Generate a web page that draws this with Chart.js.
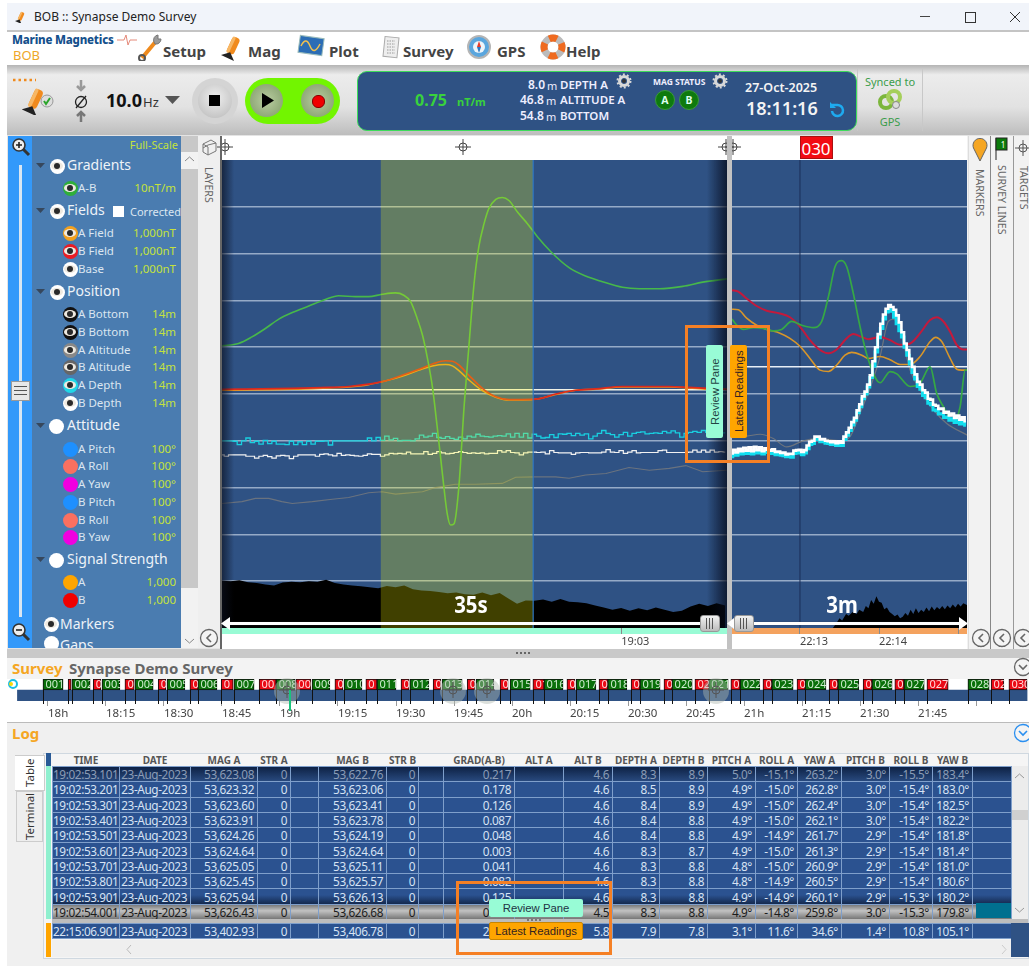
<!DOCTYPE html>
<html>
<head>
<meta charset="utf-8">
<title>BOB :: Synapse Demo Survey</title>
<script src="https://cdn.jsdelivr.net/npm/chart.js@4/dist/chart.umd.min.js"></script>
<style>
html,body{margin:0;padding:0;background:#fff;overflow:hidden;width:1029px;height:966px}
body{font-family:"Noto Sans","Open Sans",sans-serif;color:#333}
#app{position:absolute;left:0;top:0;width:1029px;height:966px;overflow:hidden}
#app div,#app canvas,#app svg,#app table{position:absolute}
.t{white-space:nowrap;line-height:1}
table{border-collapse:collapse;table-layout:fixed}
td{padding:0 3px 0 0;text-align:right;font-size:11.8px;letter-spacing:-.4px;line-height:14px;height:15.3px;box-sizing:border-box;color:#d7e3f4;white-space:nowrap;overflow:hidden;border:1px solid #7f9fcb}
th{padding:0;font-size:10px;line-height:12px;font-weight:700;color:#555;height:12px;text-align:center;white-space:nowrap;overflow:hidden}
</style>
</head>
<body>
<div id="app"></div>
<script>
// ---- review pane (seconds from the left edge, 19:03 falls at 92). Values are percent of full-scale
const reviewBand = [36.6, 71.7];
const reviewTickSeconds = [92];
const reviewTickLabels = ['19:03'];
const reviewGradTimes = [0,3.8,6.9,10,13.1,16.2,20,23.8,26.9,30.8,33.8,36.9,40,41.9,43.5,45,46.2,47.3,48.5,49.6,50.8,51.9,52.7,53.5,54.6,55.8,56.9,58.1,59.2,60.4,61.5,63.1,64.6,66.2,68.1,70.4,72.7,75.8,80,83.8,87.7,92.3,96.2,100.8,106.2,110.8,116.5];
const reviewGradValues = [60.3,60.8,62.2,64,66,67.4,68.8,70.2,71,70.8,70.8,71.3,71.6,71.1,69.7,66.1,62.6,57.9,51.5,43,33,24.5,22,22.3,30.2,47.3,60.1,73.6,81.5,86.4,89.6,91.6,92,91.3,88.9,86.4,83.6,80.4,77,75.2,74,72.8,72.5,72.5,73,73.9,74.6];
const reviewFieldTimes = [0,16.2,24.6,29.2,33.8,37.7,41.5,45.4,48.5,51.5,53.1,54.6,56.9,60,63.1,66.2,69.2,73.1,76.9,81.5,86.2,92.3,103.1,107.7,111.9,116.5];
const reviewFieldB = [51,51.2,51.4,51.6,52.1,52.8,54,55.3,56.4,57.1,57,56.2,54,51.2,49.4,48.8,48.8,49,50,50.8,51.1,51.6,51.6,51.4,51.2,51];
const reviewFieldA = [50.8,51,51.3,51.5,52,52.8,53.8,55.1,56,56.3,56,55,53,50.7,49.3,48.7,48.7,49,49.9,50.8,51,51.5,51.5,51.3,51,51];
const reviewBaseTimes = [0,116.5];
const reviewBaseValues = [50.9,50.9];
const reviewAltTimes = [0,4.6,7.7,10.8,13.8,16.2,20.8,25.4,29.2,33.8,36.9,40,46.2,49.2,53.8,58.5,64.6,67.7,72.3,76.9,80,83.8,88.5,93.8,98.5,103.1,106.9,110.8,116.5];
const reviewAltValues = [26.6,27,27.7,27.7,27,26.6,27,27.5,27.9,28.9,29.1,28.6,29.1,30,30.7,30.7,30.9,32.2,32.3,32.3,32,32.7,33,34.3,33.7,34.1,34.7,33.4,33.7];
const reviewDepthTimes = [
  0,1,2,3,4,5,6,7,8,9,10,11,12,13,14,15,16,17,18,19,
  20,21,22,23,24,25,26,27,28,29,30,31,32,33,34,35,36,37,38,39,
  40,41,42,43,44,45,46,47,48,49,50,51,52,53,54,55,56,57,58,59,
  60,61,62,63,64,65,66,67,68,69,70,71,72,73,74,75,76,77,78,79,
  80,81,82,83,84,85,86,87,88,89,90,91,92,93,94,95,96,97,98,99,
  100,101,102,103,104,105,106,107,108,109,110,111,112,113,114,115,116];
const reviewDepthA = [
  40,40,40,39.9,39.2,40,40.6,39.6,39.9,39.3,40.1,39.4,39.9,39.3,39.3,39.2,39.9,39.2,39.8,39.2,
  39.9,39.3,39.9,39.9,40,39.1,40,40,40,40,40,40,40,40,40.6,40,40.7,40.1,41,40.2,
  40.5,40,40.1,40.1,40,40.4,41.2,40.8,41,41.6,40.7,40.5,40.9,40.5,40.3,40.8,40.4,41,40.8,41.4,
  41,40.9,40.8,41,41.1,41,41.5,40.8,41.6,40.8,41.6,40.6,41.4,41,40.6,40.7,41.3,40.7,41.5,41.4,
  41.6,41.1,41.6,41.2,41.5,40.4,41,41.6,42.2,41.6,41.3,40.8,41.3,41.8,41,41.6,41.8,41.9,41.5,41.6,
  41.7,41.6,42,41.7,42.1,41.7,40.8,41.6,41.8,42,41.8,42.2,41.8,41.6,41.7,41.7,41.7];
const reviewDepthB = [
  37,36.7,37,37,37,37,36.7,36.7,36.3,36.7,36.9,36.6,36.3,36.8,36.9,36.8,36.2,36.7,37,37,
  37,37,36.7,37.1,37.2,37,36.8,37.3,36.9,37,36.9,36.8,36.7,36.9,37.2,37.1,37.1,36.7,37,37.3,
  37.2,37.3,37.2,37.6,37.2,37.2,37.2,37.7,37.1,37.3,37.7,37.4,37.2,37.3,37.5,37.7,37.5,37.3,37.4,37.3,
  37.4,37.2,37.3,37.3,37.9,37.6,37.9,37.5,37.4,37,37.4,37.6,37.6,37.5,37.6,37.2,37.9,37.5,37.4,37.4,
  37.4,37.1,37.4,37.5,37.5,37.4,37.4,37.4,37.6,38.1,37.6,37.5,37.9,37.3,37.6,37.9,37.4,37.5,37.5,37.5,
  37.5,37.9,38,37.5,37.5,37.5,37.5,37.5,37.6,38,37.6,38,37.6,38,37.6,37.7,37.6];
const reviewSignalTimes = [0,2,4,6,8,10,12,14,16,18,20,22,24,26,28,30,32,34,36,38,40,42,44,46,48,50,52,54,56,58,60,62,64,66,68,70,72,74,76,78,80,82,84,86,88,90,92,94,96,98,100,102,104,106,108,110,112,114,116];
const reviewSignalValues = [10.1,10,10.2,9.8,9.6,9.3,9.1,9.7,9.9,9.8,10,9.9,10.3,9.6,9.3,9.1,8.9,8.7,8.5,9,8.7,9.1,8.3,8,7.9,7.7,7.4,7.6,7.2,7.1,7.6,7,7.5,6.3,5.2,5.9,5.8,6.1,5.6,6.2,5.6,5.5,5.3,4.8,4.4,3.9,4.3,3.7,4.2,3.8,4.4,3.9,3.4,3.7,4.6,5.2,4.7,5.3,4.8];

// ---- latest readings pane (seconds after 22:12)
const latestMarkerSecond = 60;
const latestTickSeconds = [60,120,180];
const latestTickLabels = ['22:13','22:14',''];
const latestRedTimes = [8.4,13.2,19.5,27.1,34.7,44.8,52.4,60,67.6,75.2,81.6,87.9,95.5,100.5,106.9,111.9,120.8,128.4,136,143.6,151.2,158.8,163.8,168.9,174,179,184.1,187.1];
const latestFieldB = [72.2,71.9,70.4,68.8,67.8,67.2,66.4,64.4,61.5,59.4,58.7,59.5,61.9,62.8,62.2,61.7,62.2,61.5,60.5,60.8,63,65.8,66.4,65.5,63.3,60.5,59.5,59.5];
const latestOrangeTimes = [8.4,13.2,19.5,27.1,34.7,44.8,52.4,60,67.6,75.2,81.6,87.9,94.2,99.3,106.9,111.9,120.8,128.4,136,143.6,151.2,158.8,163,167.6,174,179,182.8,187.1];
const latestFieldA = [68.1,68,66.2,64.7,63.8,63,61.9,60.2,57.6,55.1,54.8,56.2,58.3,58.9,58.3,57.6,58,57.3,56.3,56.3,58,61.2,62.1,61.2,57.6,55.3,55.1,55.1];
const latestGradTimes = [8.4,12,17,24.6,32.2,39.8,46.1,53.7,61.3,70.2,76.5,81.6,86.6,91.7,95.5,100.5,105.6,111.9,120.8,128.4,133.5,143.6,151.2,158.8,163.8,168.9,176.5,181.6,185.4,187.1];
const latestGradValues = [66,64.7,63.8,64.2,64,63.5,63.8,65.5,64.7,64.2,65.5,70.8,77.2,78.5,77.2,71.5,64.4,57.3,52.4,54.8,54.3,51.6,52.3,55.8,50.1,47.3,44.1,47.3,55.1,55.1];
const latestBaseTimes = [8.4,187.1];
const latestBaseValues = [55.8,55.8];
const latestAltTimes = [8.4,19.5,29.7,39.8,49.9,62.6,75.2,90.4,98,105.6,114.5,120.8,127.1,130.9,136,143.6,151.2,161.3,171.4,187.1];
const latestAltValues = [40.9,41,41.4,40.5,38.7,40,40.5,40,40.9,45.9,52.3,58,65.5,66,63.7,55.1,50.8,46.6,43.7,41.2];
const latestDepthTimes = [
  8,10,12,14,16,18,20,22,24,26,
  28,30,32,34,36,38,40,42,44,46,
  48,50,52,54,56,58,60,62,64,66,
  68,70,72,74,76,78,80,82,84,86,
  88,90,92,94,96,98,100,102,104,106,
  108,110,112,114,116,118,120,122,124,126,
  128,130,132,134,136,138,140,142,144,146,
  148,150,152,154,156,158,160,162,164,166,
  168,170,172,174,176,178,180,182,184,186];
const latestDepthB = [
  37.3,38.1,37.5,38.3,37.8,38.5,37.9,38.6,37.8,38.7,
  38,38.6,37.8,38.4,38.1,37.9,38.2,37.6,37.7,37.4,
  37.5,37.1,37.2,37.2,37.9,38,38.1,37.6,38,39,
  39.8,40,40.9,40.9,40.3,40.4,40,39.9,39.7,39.9,
  39.5,39.9,39.6,40.9,41.8,42.8,44,44.9,46.5,47.8,
  49.5,50.5,52,54,57,60,62.8,65,67,68.2,
  69,68.6,68,66.8,65.3,63.2,60.8,59.4,57.5,55.8,
  54.2,52.6,52,50.8,50.3,49,48.8,47.7,47.5,46.8,
  46.9,46,46.2,45.4,45.8,44.9,45.4,44.5,45,44.2];
const latestDepthA = [
  36.6,37.3,36.9,37.5,37.2,37.7,37.3,37.9,37.2,38,
  37.4,37.9,37.2,37.8,37.5,37.3,37.6,37,37.1,36.9,
  36.8,36.6,36.6,36.5,37.3,37.4,37.5,37,37.4,38.3,
  39.2,39.4,40.3,40.4,39.8,39.8,39.5,39.4,39.2,39.4,
  39,39.4,39,40.3,41.2,42.2,43.4,44.4,46,47.3,
  49,50,51.5,53.5,56,59,62,64,66,67.5,
  68,67.7,66.4,65,63.5,62.2,60,58.3,56.4,54.6,
  53.2,51.6,51,49.7,49.2,48,47.7,46.6,46.4,45.7,
  45.8,45,45.1,44.4,44.7,43.9,44.3,43.6,43.9,43.3];
const latestSignalTimes = [8.4,85,88,90,92,95,97,100,103,105,108,110,112,114,116,118,120,122,124,126,128,130,132,134,136,138,140,142,144,146,148,150,152,154,156,158,160,162,164,166,168,170,172,174,176,178,180,182,184,187];
const latestSignalValues = [0,0,1.2,2.1,1.6,3,2.6,3.4,3,3.9,3.4,4.7,4.2,6,5.2,6.8,5.6,5.4,4,4.4,3.4,3,2.5,2.9,2.1,2.4,3.2,2.6,3.9,3,4.2,3.2,3.9,3.4,4.4,3.6,4.6,3.8,4.5,4,4.7,4,4.8,4.2,5,4.4,5.2,4.6,5.3,4.9];

// ---- survey timeline (minutes after 18:02:36)
const surveyTickMinutes = [-2.6,12.4,27.4,42.4,57.4,72.4,87.4,102.4,117.4,132.4,147.4,162.4,177.4,192.4,207.4,222.4,237.4];
const surveyTickLabels = ['18h','18:15','18:30','18:45','19h','19:15','19:30','19:45','20h','20:15','20:30','20:45','21h','21:15','21:30','21:45',''];
const lineNames = ['001','002','003','004','005','006','007','008','009','010','011','012','013','014','015','016','017','018','019','020','021','022','023','024','025','026','027','028'];
const lineStarts = [-3.9,3.6,11.4,19.9,28.2,36.2,45.5,56.4,65.7,74,82.5,91,99.3,108.1,116.9,125.7,134,142.2,150.5,158.8,168.3,176.4,184.6,193.2,201.7,210.5,218.8,235.3];
const lineEnds = [1.3,8.3,16,24.6,32.8,41.1,50.7,61.3,70.3,78.6,87.4,95.9,104.5,112.7,122.1,130.6,139.1,147.1,155.7,164,173.3,181.5,190.1,198.6,207.1,215.7,224,240.8];
const turnStarts = [2.6,9.1,17.3,25.9,34.1,42.2,52,61.5,71.6,79.6,88.7,97,105.8,114.3,122.8,131.6,139.9,148.2,156.7,164.7,174,182.3,191.1,199.4,208.2,216.4,224.7,241.3,245.9];
const turnEnds = [3.4,11.1,19.7,27.9,36.2,45.3,56.4,65.4,73.7,82.5,90.8,99,107.8,116.4,125.7,133.7,142.2,150.5,158.8,168.3,176.4,184.6,193.2,201.7,210.5,218.8,230.2,244.6,250.6];
const turnLabels = ['','0','0','0','0','0','00','007','008','0','01','0','0','0','01','0','0','0','0','02','0','0','0','0','0','0','027','02','030'];

// ---- layer list
const layerRows = [
  ['group','Gradients',166,'eye','#fff'],
  ['row','A-B',188,'eye','#2fae3a','10nT/m'],
  ['group','Fields',211,'eye','#fff'],
  ['row','A Field',233,'eye','#f2a01e','1,000nT'],
  ['row','B Field',251,'eye','#ea1c24','1,000nT'],
  ['row','Base',269,'eye','#fff','1,000nT'],
  ['group','Position',292,'eye','#fff'],
  ['row','A Bottom',314,'eye','#111','14m'],
  ['row','B Bottom',332,'eye','#111','14m'],
  ['row','A Altitude',350,'eye','#888','14m'],
  ['row','B Altitude',367,'eye','#666','14m'],
  ['row','A Depth',385,'eye','#1fd6e6','14m'],
  ['row','B Depth',403,'eye','#fff','14m'],
  ['group','Attitude',426,'dot','#fff'],
  ['row','A Pitch',449,'dot','#1e90ff','100°'],
  ['row','A Roll',466,'dot','#fa7060','100°'],
  ['row','A Yaw',484,'dot','#f000e0','100°'],
  ['row','B Pitch',502,'dot','#1e90ff','100°'],
  ['row','B Roll',520,'dot','#fa7060','100°'],
  ['row','B Yaw',537,'dot','#f000e0','100°'],
  ['group','Signal Strength',560,'dot','#fff'],
  ['row','A',582,'dot','#ffa500','1,000'],
  ['row','B',600,'dot','#f00000','1,000']
];

// ---- log table
const logColumns = [['TIME',67],['DATE',71],['MAG A',67],['STR A',33],['',28],['MAG B',68],['STR B',32],['',25],['GRAD(A-B)',71],['ALT A',49],['ALT B',49],['DEPTH A',47],['DEPTH B',48],['PITCH A',48],['ROLL A',42],['YAW A',44],['PITCH B',48],['ROLL B',43],['YAW B',40],['',39]];
const logRows = [
  ['19:02:53.101','23-Aug-2023','53,623.08','0','','53,622.76','0','','0.217','','4.6','8.3','8.9','5.0°','-15.1°','263.2°','3.0°','-15.5°','183.4°',''],
  ['19:02:53.201','23-Aug-2023','53,623.32','0','','53,623.06','0','','0.178','','4.6','8.5','8.9','4.9°','-15.0°','262.8°','3.0°','-15.4°','183.0°',''],
  ['19:02:53.301','23-Aug-2023','53,623.60','0','','53,623.41','0','','0.126','','4.6','8.4','8.9','4.9°','-15.0°','262.4°','3.0°','-15.4°','182.5°',''],
  ['19:02:53.401','23-Aug-2023','53,623.91','0','','53,623.78','0','','0.087','','4.6','8.4','8.8','4.9°','-15.0°','262.1°','3.0°','-15.4°','182.2°',''],
  ['19:02:53.501','23-Aug-2023','53,624.26','0','','53,624.19','0','','0.048','','4.6','8.4','8.8','4.9°','-14.9°','261.7°','2.9°','-15.4°','181.8°',''],
  ['19:02:53.601','23-Aug-2023','53,624.64','0','','53,624.64','0','','0.003','','4.6','8.3','8.7','4.9°','-15.0°','261.3°','2.9°','-15.4°','181.4°',''],
  ['19:02:53.701','23-Aug-2023','53,625.05','0','','53,625.11','0','','0.041','','4.6','8.3','8.8','4.8°','-15.0°','260.9°','2.9°','-15.4°','181.0°',''],
  ['19:02:53.801','23-Aug-2023','53,625.45','0','','53,625.57','0','','0.082','','4.6','8.3','8.8','4.8°','-14.9°','260.5°','2.9°','-15.4°','180.6°',''],
  ['19:02:53.901','23-Aug-2023','53,625.94','0','','53,626.13','0','','0.125','','4.6','8.3','8.8','4.9°','-14.9°','260.1°','2.9°','-15.3°','180.2°',''],
  ['19:02:54.001','23-Aug-2023','53,626.43','0','','53,626.68','0','','0.170','','4.5','8.3','8.8','4.9°','-14.8°','259.8°','3.0°','-15.3°','179.8°','']
];
const latestRow = ['22:15:06.901','23-Aug-2023','53,402.93','0','','53,406.78','0','','2.618','','5.8','7.9','7.8','3.1°','11.6°','34.6°','1.4°','10.8°','105.1°',''];

const app = document.getElementById('app');
const NAVY = '#2f5284';
const TAB_FONT = 'font-family:"Liberation Sans";font-size:11.3px;';

// positioned box
const box = (x, y, w, h, css) => {
    const d = document.createElement('div');
    d.style.cssText = `left:${x}px;top:${y}px;width:${w}px;height:${h}px;${css || ''}`;
    app.appendChild(d);
    return d;
};
// text anchored at its vertical middle: a = l(eft), c(entre), r(ight)
const text = (x, y, s, css, a) => {
    const d = document.createElement('div');
    d.className = 't';
    const tx = a === 'r' ? '-100%' : a === 'c' ? '-50%' : '0';
    d.style.cssText = `left:${x}px;top:${y}px;transform:translate(${tx},-50%);${css || ''}`;
    d.textContent = s;
    app.appendChild(d);
    return d;
};
const svg = (x, y, w, h, inner) => {
    const holder = document.createElement('div');
    holder.style.cssText = `left:${x}px;top:${y}px;width:${w}px;height:${h}px`;
    holder.innerHTML = `<svg style="left:0;top:0" width="${w}" height="${h}" viewBox="0 0 ${w} ${h}">${inner}</svg>`;
    app.appendChild(holder);
};
const sideText = (x, y, w, h, s, css) => {
    const d = box(x, y, w, h, `writing-mode:vertical-rl;display:flex;align-items:center;justify-content:center;white-space:nowrap;${css}`);
    d.textContent = s;
    return d;
};
const chevron = (cx, cy, color, down) => {
    const p = down ? `M${6} ${8} L10 12 L14 8` : `M12 6 L8 10 L12 14`;
    svg(cx - 10, cy - 10, 20, 20, `<circle cx="10" cy="10" r="8.5" fill="#f4f4f4" stroke="${color}" stroke-width="1.3"/><path d="${p}" fill="none" stroke="${color}" stroke-width="1.6"/>`);
};
const crosshair = (cx, cy, color) => {
    svg(cx - 9, cy - 9, 18, 18, `<circle cx="9" cy="9" r="4" fill="none" stroke="${color}"/><path d="M9 1V17M1 9H17" stroke="${color}"/>`);
};
const gear = (cx, cy) => {
    svg(cx - 8, cy - 8, 16, 16, `<circle cx="8" cy="8" r="4.5" fill="none" stroke="#d8d8d8" stroke-width="3"/><circle cx="8" cy="8" r="6.5" fill="none" stroke="#d8d8d8" stroke-width="2" stroke-dasharray="2 2.1"/><circle cx="8" cy="8" r="2" fill="#333"/>`);
};
const magIcon = (cx, cy, s) => {
    svg(cx - 14 * s, cy - 16 * s, 28 * s, 32 * s, `<g transform="scale(${s}) rotate(25 14 16)"><rect x="9" y="2" width="10" height="22" rx="4" fill="#f08a1d"/><rect x="9" y="2" width="4" height="22" rx="2" fill="#f7b765"/><path d="M5 30 L14 22 L23 30Z" fill="#222"/></g>`);
};

// ---- window chrome
box(7, 3, 1022, 27, 'background:#f1f4fa');
box(7, 30, 1022, 2, 'background:#c4c4c4');
magIcon(21, 17, 0.4);
text(34, 17, 'BOB :: Synapse Demo Survey', 'font-size:12px;color:#222');
box(920, 16, 10, 1, 'background:#444');
box(965, 12, 9, 9, 'border:1px solid #333');
svg(1009, 11, 12, 12, '<path d="M1 1L11 11M11 1L1 11" stroke="#333" stroke-width="1"/>');

// ---- menu
box(7, 32, 1022, 33, 'background:#fff');
text(12, 40, 'Marine Magnetics', 'font-size:11.5px;font-weight:800;color:#14508c;letter-spacing:-.2px');
svg(117, 34, 20, 12, '<path d="M0 6H7L9 1L11 11L13 6H20" fill="none" stroke="#e58a7a"/>');
text(13, 55, 'BOB', 'font-size:13px;color:#eea728');
svg(138, 33, 24, 28, '<path d="M4 25L19 7" stroke="#ef8a1d" stroke-width="4"/><circle cx="4" cy="25" r="3" fill="none" stroke="#555" stroke-width="2"/><path d="M16 9A5 5 0 0 1 20 2L20 6L23 6A5 5 0 0 1 17 11Z" fill="#9a9a9a" stroke="#777"/>');
text(163, 51, 'Setup', 'font-size:15px;font-weight:700;color:#444');
magIcon(232, 48, 0.8);
text(248, 51, 'Mag', 'font-size:15px;font-weight:700;color:#444');
svg(296, 34, 30, 24, '<rect x="3" y="3" width="24" height="17" fill="#2c6db5" stroke="#9bb" transform="rotate(8 15 12)"/><path d="M5 12Q10 2 14 12T24 10" fill="none" stroke="#f2c14e" stroke-width="1.5"/>');
text(329, 51, 'Plot', 'font-size:15px;font-weight:700;color:#444');
svg(380, 35, 20, 24, '<rect x="4" y="2" width="14" height="20" fill="#eee" stroke="#aaa" transform="rotate(6 10 12)"/><path d="M7 6H15M7 9H15M7 12H15M7 15H15M7 18H15" stroke="#999" stroke-dasharray="1.5 1"/>');
text(403, 51, 'Survey', 'font-size:15px;font-weight:700;color:#444');
svg(466, 34, 26, 26, '<circle cx="13" cy="13" r="11" fill="#5aa6de" stroke="#b5b5b5" stroke-width="2"/><circle cx="13" cy="13" r="6" fill="#eef5fa"/><path d="M13 7L15 13H11Z" fill="#e53b2b"/><path d="M13 19L15 13H11Z" fill="#2a79c2"/>');
text(497, 51, 'GPS', 'font-size:15px;font-weight:700;color:#444');
svg(540, 34, 26, 26, '<circle cx="13" cy="13" r="9" fill="none" stroke="#bbb" stroke-width="7"/><circle cx="13" cy="13" r="9" fill="none" stroke="#ef6a1f" stroke-width="7" stroke-dasharray="8 6.1" stroke-dashoffset="4"/>');
text(566, 51, 'Help', 'font-size:15px;font-weight:700;color:#444');

// ---- toolbar
box(7, 65, 1022, 70, 'background:linear-gradient(#b4b4b4 0,#ececec 14%,#e2e2e2 60%,#bdbdbd 100%)');
svg(12, 77, 24, 6, '<path d="M1 3H24" stroke="#f08a1d" stroke-width="2.5" stroke-dasharray="2.5 3"/>');
magIcon(35, 101, 0.9);
svg(40, 94, 14, 14, '<circle cx="7" cy="7" r="6" fill="#ddd" stroke="#999"/><path d="M4 7L6 10L10 4" fill="none" stroke="#2ba52b" stroke-width="2"/>');
svg(74, 79, 14, 44, '<path d="M7 1V9M3 7L7 11L11 7" fill="none" stroke="#999" stroke-width="2.5"/><circle cx="7" cy="23" r="5.5" fill="none" stroke="#222" stroke-width="1.3"/><path d="M2 29L12 17" stroke="#222" stroke-width="1.3"/><path d="M7 43V35M3 37L7 33L11 37" fill="none" stroke="#777" stroke-width="2.5"/>');
text(106, 100, '10.0', 'font-size:18px;font-weight:700;color:#111');
text(143, 102, 'Hz', 'font-size:13px;color:#333');
svg(165, 96, 15, 9, '<path d="M0 0H15L7.5 8Z" fill="#555"/>');
box(192, 78, 46, 46, 'background:#d4d4d4;border-radius:23px');
box(198, 84, 34, 34, 'background:radial-gradient(circle at 50% 40%,#efefef,#b8b8b8);border-radius:17px');
box(209, 95, 11, 11, 'background:#000');
box(245, 78, 95, 46, 'background:#72f500;border-radius:23px');
box(250, 84, 33, 33, 'background:radial-gradient(circle,#b9cda0,#7f9a68);border-radius:17px');
svg(261, 93, 14, 15, '<path d="M1 0L13 7.5L1 15Z" fill="#000"/>');
box(301, 84, 33, 33, 'background:radial-gradient(circle,#b9cda0,#7f9a68);border-radius:17px');
box(312, 95, 11, 11, 'background:#f00000;border-radius:6px;border:1px solid #800');

// status panel
box(357, 71, 498, 58, `background:${NAVY};border:1.5px solid #3ddc5a;border-radius:10px`);
text(415, 100, '0.75', 'font-size:16px;font-weight:700;color:#39d23c');
text(457, 101, 'nT/m', 'font-size:11px;font-weight:700;color:#39d23c');
[['8.0','DEPTH A',85,528],['46.8','ALTITUDE A',100,520],['54.8','BOTTOM',116,520]].forEach(r => {
    text(r[3], r[2], r[0], 'font-size:12px;font-weight:600;color:#eef');
    text(r[3] + (r[0].length === 3 ? 19 : 26), r[2], 'm', 'font-size:11px;color:#eef');
    text(r[3] + (r[0].length === 3 ? 32 : 40), r[2], r[1], 'font-size:11.5px;font-weight:600;color:#eef');
});
gear(624, 81);
text(653, 82, 'MAG STATUS', 'font-size:8.5px;font-weight:700;color:#eef');
gear(720, 81);
[['A',665],['B',689]].forEach(m => {
    box(m[1] - 10, 90, 20, 20, 'background:#0e7a0e;border-radius:10px;border:1px solid #3a9a3a;box-sizing:border-box');
    text(m[1], 100, m[0], 'font-size:10.5px;font-weight:700;color:#dfe', 'c');
});
text(745, 88, '27-Oct-2025', 'font-size:12.5px;font-weight:600;color:#f4f4f4');
text(746, 108, '18:11:16', 'font-size:18px;font-weight:600;color:#f4f4f4');
svg(828, 101, 17, 17, '<path d="M4 4H9A5.5 5.5 0 1 1 4 10" fill="none" stroke="#1eaaf0" stroke-width="2.5"/><path d="M2 1V7H8Z" fill="#1eaaf0"/>');
box(857, 69, 1, 62, 'background:#c8c8c8');
box(922, 69, 1, 62, 'background:#c8c8c8');
text(890, 81, 'Synced to', 'font-size:11px;color:#3b9d4b', 'c');
svg(877, 89, 26, 22, '<circle cx="9" cy="13" r="6" fill="none" stroke="#7cb63c" stroke-width="4"/><circle cx="17" cy="8" r="6" fill="none" stroke="#a5cf5a" stroke-width="4"/><circle cx="19" cy="16" r="3.5" fill="#ddd" stroke="#888"/>');
text(890, 121, 'GPS', 'font-size:11px;color:#3b9d4b', 'c');

// ---- layers panel
box(7, 135, 1022, 520, 'background:#e4e4e4');
box(8, 136, 24, 512, 'background:#3399fa');
box(32, 136, 149, 512, 'background:#4a7cb0');
box(19, 165, 3, 452, 'background:#d9e6f2');
box(11, 381, 19, 20, 'background:#e8e8e8;border:1px solid #999;box-sizing:border-box');
box(14, 386, 13, 1, 'background:#555');
box(14, 390, 13, 1, 'background:#555');
box(14, 394, 13, 1, 'background:#555');
[147, 632].forEach((y, i) => svg(11, y - 10, 20, 20, `<path d="M11 11L18 18" stroke="#333" stroke-width="3"/><circle cx="8" cy="8" r="6" fill="#eee" stroke="#333" stroke-width="1.6"/><path d="M5 8H11${i ? '' : 'M8 5V11'}" stroke="#222" stroke-width="1.6"/>`));
box(181, 136, 17, 512, 'background:#c8c8c8');
box(181, 152, 17, 17, 'background:#f2f2f2');
box(181, 588, 17, 60, 'background:#f2f2f2');
svg(184, 155, 11, 8, '<path d="M1 6L5.5 2L10 6" fill="none" stroke="#888"/>');
svg(184, 637, 11, 8, '<path d="M1 2L5.5 6L10 2" fill="none" stroke="#888"/>');
text(178, 144, 'Full-Scale', 'font-size:11px;color:#c4e23c', 'r');
box(198, 136, 22, 512, 'background:#efefef');
sideText(199, 160, 20, 50, 'LAYERS', 'font-size:10.5px;color:#666');
svg(201, 138, 17, 20, '<path d="M2 6L10 2L15 5V13L7 17L2 14Z" fill="none" stroke="#777"/><path d="M2 10L7 7L15 5M2 6L7 9V17" fill="none" stroke="#777"/>');

const eye = (cx, cy, r, ring) => {
    box(cx - r, cy - r, 2 * r, 2 * r, `background:${ring};border-radius:${r}px`);
    box(cx - r + 1.5, cy - r * 0.55, 2 * r - 3, r * 1.1, 'background:#eee9e0;border-radius:50%');
    box(cx - r * 0.4, cy - r * 0.4, r * 0.8, r * 0.8, 'background:#2a2a2a;border-radius:50%');
};
layerRows.forEach(r => {
    const [kind, name, y, icon, color, scale] = r;
    if (kind === 'group') {
        svg(36, y - 3, 9, 6, '<path d="M0 0H9L4.5 5Z" fill="#36475c"/>');
        if (icon === 'eye') eye(57, y, 7.5, color);
        else box(49, y - 7.5, 15, 15, `background:${color};border-radius:8px`);
        text(67, y - 1, name, 'font-size:14px;color:#eef3f8');
    } else {
        if (icon === 'eye') eye(70, y, 7.5, color);
        else box(62.5, y - 7.5, 15, 15, `background:${color};border-radius:8px`);
        text(78, y, name, 'font-size:11.5px;color:#dbe6f0');
        text(176, y, scale, 'font-size:11.5px;color:#c4e23c', 'r');
    }
});
box(113, 206, 11, 11, 'background:#fff');
text(130, 211, 'Corrected', 'font-size:11px;color:#dbe6f0');
eye(51, 624, 7.5, '#fff');
text(60, 624, 'Markers', 'font-size:14px;color:#eef3f8');
const gapsClip = box(32, 636, 149, 12, 'overflow:hidden');
gapsClip.innerHTML = '<div style="left:12px;top:0;width:15px;height:15px;background:#fff;border-radius:8px"></div><div class="t" style="left:28px;top:2px;font-size:14px;color:#eef3f8">Gaps</div>';
chevron(209, 638, '#666');

// ---- plot panes, backgrounds live under the transparent canvases
box(222, 136, 505, 24, 'background:#fff');
box(732, 136, 235, 24, 'background:#fff');
crosshair(225, 147, '#444');
crosshair(463, 147, '#444');
crosshair(726, 147, '#444');
crosshair(733, 147, '#444');
box(222, 160, 505, 468, `background:${NAVY}`);
box(732, 160, 235, 468, `background:${NAVY}`);
box(222, 628, 505, 6, 'background:#99fbd5');
box(732, 628, 235, 6, 'background:#f4a25e');
box(222, 634, 505, 15, 'background:#fff');
box(732, 634, 235, 15, 'background:#fff');

const series = (times, values, color, width, extra) => Object.assign({
    data: times.map((t, i) => ({ x: t, y: values[i] })),
    borderColor: color,
    borderWidth: width,
    pointRadius: 0,
    tension: 0
}, extra || {});

const paneChart = (x, w, tMin, tMax, tickValues, tickLabels, datasets, overlays) => {
    const c = document.createElement('canvas');
    c.width = w;
    c.height = 488;
    c.style.cssText = `left:${x}px;top:160px;width:${w}px;height:488px`;
    app.appendChild(c);
    return new Chart(c, {
        type: 'line',
        data: { datasets: datasets },
        plugins: overlays,
        options: {
            responsive: false,
            animation: false,
            events: [],
            layout: { padding: 0 },
            plugins: { legend: { display: false }, tooltip: { enabled: false } },
            scales: {
                x: {
                    type: 'linear',
                    min: tMin,
                    max: tMax,
                    afterBuildTicks: s => { s.ticks = tickValues.map(v => ({ value: v })); },
                    afterFit: s => { s.height = 20; },
                    grid: { drawOnChartArea: false, tickLength: 6, tickColor: '#8a8a8a' },
                    border: { display: false },
                    ticks: {
                        autoSkip: false,
                        maxRotation: 0,
                        align: 'start',
                        padding: 1,
                        color: '#444',
                        font: { family: 'Noto Sans', size: 11 },
                        callback: v => tickLabels[tickValues.indexOf(v)]
                    }
                },
                y: {
                    min: 0,
                    max: 100,
                    afterFit: s => { s.width = 0; },
                    border: { display: false },
                    grid: {
                        drawTicks: false,
                        lineWidth: 1.5,
                        color: ctx => (ctx.tick.value % 100 === 0 ? 'transparent' : 'rgba(214,226,240,.62)')
                    },
                    ticks: { display: false, stepSize: 10 }
                }
            }
        }
    });
};

// highlighted span of the review pane, tints whatever is under it
const bandPlugin = {
    id: 'reviewBand',
    afterDatasetsDraw(chart) {
        const { ctx, chartArea: a, scales: { x } } = chart;
        const left = x.getPixelForValue(reviewBand[0]);
        const right = x.getPixelForValue(reviewBand[1]);
        ctx.save();
        ctx.fillStyle = 'rgba(255,255,0,.25)';
        ctx.fillRect(left, a.top, right - left, a.bottom - a.top);
        ctx.fillStyle = '#2f78c4';
        ctx.fillRect(right - 0.5, a.top, 1.2, a.bottom - a.top);
        ctx.restore();
    }
};
const markerPlugin = {
    id: 'lineMarker',
    beforeDatasetsDraw(chart) {
        const { ctx, chartArea: a, scales: { x } } = chart;
        ctx.save();
        ctx.strokeStyle = '#1b2f57';
        ctx.lineWidth = 1;
        ctx.beginPath();
        ctx.moveTo(x.getPixelForValue(latestMarkerSecond), a.top);
        ctx.lineTo(x.getPixelForValue(latestMarkerSecond), a.bottom);
        ctx.stroke();
        ctx.restore();
    }
};

paneChart(222, 505, 0, 116.4, reviewTickSeconds, reviewTickLabels, [
    series(reviewGradTimes, reviewGradValues, '#47b84a', 1.6, { cubicInterpolationMode: 'monotone' }),
    series(reviewDepthTimes, reviewDepthB, '#f2f2f2', 1.2, { stepped: 'middle' }),
    series(reviewDepthTimes, reviewDepthA, '#19cfe0', 1.3, { stepped: 'middle' }),
    series(reviewFieldTimes, reviewFieldB, '#dd2a1c', 1.7, { cubicInterpolationMode: 'monotone' }),
    series(reviewFieldTimes, reviewFieldA, '#e8981e', 1.5, { cubicInterpolationMode: 'monotone' }),
    series(reviewBaseTimes, reviewBaseValues, '#f1f1e6', 1.5),
    series(reviewAltTimes, reviewAltValues, 'rgba(125,125,125,.75)', 1.1),
    series(reviewSignalTimes, reviewSignalValues, '#000', 0, { fill: 'origin', backgroundColor: '#000' })
], [bandPlugin]);

paneChart(732, 235, 8.4, 186.8, latestTickSeconds, latestTickLabels, [
    series(latestDepthTimes, latestDepthB, '#ffffff', 2.6, { stepped: 'middle' }),
    series(latestDepthTimes, latestDepthA, '#12dff0', 3, { stepped: 'middle' }),
    series(latestGradTimes, latestGradValues, '#36a845', 1.7, { cubicInterpolationMode: 'monotone' }),
    series(latestOrangeTimes, latestFieldA, '#d8962a', 1.6, { cubicInterpolationMode: 'monotone' }),
    series(latestRedTimes, latestFieldB, '#c41a3c', 2, { cubicInterpolationMode: 'monotone' }),
    series(latestBaseTimes, latestBaseValues, '#e8eef5', 1.5),
    series(latestAltTimes, latestAltValues, 'rgba(125,125,125,.8)', 1.2, { cubicInterpolationMode: 'monotone' }),
    series(latestSignalTimes, latestSignalValues, '#000', 0, { fill: 'origin', backgroundColor: '#000' })
], [markerPlugin]);

// pane edge shadows and splitter
box(222, 160, 12, 468, 'background:linear-gradient(90deg,rgba(10,15,30,.65),rgba(10,15,30,0))');
box(707, 160, 20, 468, 'background:linear-gradient(270deg,rgba(5,10,25,.75),rgba(5,10,25,0))');
box(727, 136, 5, 513, 'background:#c2c2c2');
box(220, 136, 2, 513, 'background:#666');

// window slider over both panes
const WHITE_RULE = 'background:#fff;box-shadow:0 0 1px #333';
box(226, 622, 476, 3, WHITE_RULE);
svg(221, 617, 9, 13, '<path d="M0 6.5L9 0V13Z" fill="#fff"/>');
box(737, 622, 226, 3, WHITE_RULE);
svg(959, 617, 9, 13, '<path d="M9 6.5L0 0V13Z" fill="#fff"/>');
box(700, 615, 20, 17, 'background:linear-gradient(#f2f2f2,#bbb);border:1px solid #999;border-radius:3px;box-sizing:border-box');
box(734, 615, 20, 17, 'background:linear-gradient(#f2f2f2,#bbb);border:1px solid #999;border-radius:3px;box-sizing:border-box');
[706, 709, 712, 740, 743, 746].forEach(x => box(x, 618, 1, 11, 'background:#555'));
svg(727, 617, 9, 13, '<path d="M0 6.5L7 1V12Z" fill="#fff"/>');
text(471, 604, '35s', 'font-size:24px;font-weight:700;color:#fff;transform:translate(-50%,-50%) scaleX(.85)');
text(842, 604, '3m', 'font-size:24px;font-weight:700;color:#fff;transform:translate(-50%,-50%) scaleX(.85)');
box(800, 136, 33, 23, 'background:#f20c12;border:1px solid #a11;box-sizing:border-box');
text(816, 148, '030', 'font-size:17px;color:#fff', 'c');

// right-hand tabs
box(967, 136, 62, 513, 'background:#f2f2f2');
box(968, 136, 1, 513, 'background:#ddd');
box(990, 136, 1, 513, 'background:#888');
box(1013, 136, 1, 513, 'background:#999');
svg(972, 138, 16, 24, '<path d="M8 23L1.5 10A7 7 0 1 1 14.5 10Z" fill="#f5a623" stroke="#666"/>');
svg(993, 136, 16, 24, '<path d="M3 2V24" stroke="#222"/><rect x="3" y="2" width="11" height="12" fill="#0b7a0b" stroke="#222"/>');
text(1003, 145, '1', 'font-size:8px;color:#fff', 'c');
crosshair(1023, 148, '#555');
sideText(971, 165, 18, 55, 'MARKERS', 'font-size:10.5px;color:#666');
sideText(993, 160, 18, 80, 'SURVEY LINES', 'font-size:10.5px;color:#666');
sideText(1015, 163, 18, 50, 'TARGETS', 'font-size:10.5px;color:#666');
chevron(981, 638, '#666');
chevron(1002, 638, '#666');
chevron(1023, 638, '#666');

// review/latest pane tabs with the callout box
sideText(706, 345, 17, 93, 'Review Pane', `background:#98fcd6;border-radius:2px;${TAB_FONT}color:#244;transform:rotate(180deg)`);
sideText(730, 345, 17, 93, 'Latest Readings', `background:#ffa500;border-radius:2px;${TAB_FONT}color:#322;transform:rotate(180deg)`);
box(685, 325, 85, 138, 'border:3px solid #f58025;box-sizing:border-box');

// ---- survey
box(7, 649, 1022, 9, 'background:#c9c9c9');
[516, 520, 524, 528].forEach(x => box(x, 652, 2, 2, 'background:#666'));
box(7, 658, 1022, 21, 'background:#f3f3f3');
text(12, 668, 'Survey', 'font-size:15px;font-weight:700;color:#f5a623');
text(69, 668, 'Synapse Demo Survey', 'font-size:15px;font-weight:700;color:#666');
chevron(1023, 667, '#666', true);

const surveyCanvas = document.createElement('canvas');
surveyCanvas.width = 1022;
surveyCanvas.height = 45;
surveyCanvas.style.cssText = 'left:7px;top:679px;width:1022px;height:45px;background:#fff';
app.appendChild(surveyCanvas);
const SURVEY_MIN = -13.2;
const SURVEY_MAX = 251.1;
const segmentSet = (s, e, color) => ({
    data: [[s, e], null],
    backgroundColor: color,
    borderColor: '#111',
    borderWidth: 1,
    borderSkipped: false,
    grouped: false,
    categoryPercentage: 1,
    barPercentage: 1
});
const surveyLabelPlugin = {
    id: 'surveyLabels',
    afterDatasetsDraw(chart) {
        const { ctx, chartArea: a, scales: { x } } = chart;
        const label = (s, e, name, color) => {
            const l = x.getPixelForValue(s);
            const r = x.getPixelForValue(e);
            ctx.save();
            ctx.beginPath();
            ctx.rect(l, a.top, r - l, 11);
            ctx.clip();
            ctx.fillStyle = color;
            ctx.font = '11px "Noto Sans"';
            ctx.textBaseline = 'middle';
            ctx.fillText(name, l + 2.5, a.top + 5.5);
            ctx.restore();
        };
        const tick = s => {
            const p = Math.round(x.getPixelForValue(s)) + 0.5;
            ctx.strokeStyle = '#111';
            ctx.beginPath();
            ctx.moveTo(p, a.top + 11);
            ctx.lineTo(p, a.bottom + 3);
            ctx.stroke();
        };
        lineNames.forEach((n, i) => { label(lineStarts[i], lineEnds[i], n, '#cfeccf'); tick(lineStarts[i]); });
        turnLabels.forEach((n, i) => { label(turnStarts[i], turnEnds[i], n, '#ffd9d9'); tick(turnStarts[i]); });
    }
};
new Chart(surveyCanvas, {
    type: 'bar',
    data: {
        labels: ['Lines', 'Track'],
        datasets: [
            ...lineStarts.map((s, i) => segmentSet(s, lineEnds[i], '#0a700a')),
            ...turnStarts.map((s, i) => segmentSet(s, turnEnds[i], '#ea0a16')),
            Object.assign(segmentSet(SURVEY_MIN, SURVEY_MAX, NAVY), { data: [null, [-10.5, 250.6]], borderWidth: 0 })
        ]
    },
    plugins: [surveyLabelPlugin],
    options: {
        indexAxis: 'y',
        responsive: false,
        animation: false,
        events: [],
        layout: { padding: 0 },
        plugins: { legend: { display: false }, tooltip: { enabled: false } },
        scales: {
            x: {
                type: 'linear',
                min: SURVEY_MIN,
                max: SURVEY_MAX,
                afterBuildTicks: s => { s.ticks = surveyTickMinutes.map(v => ({ value: v })); },
                afterFit: s => { s.height = 23; },
                grid: { drawOnChartArea: false, tickLength: 5, tickColor: '#999' },
                border: { display: false },
                ticks: {
                    autoSkip: false,
                    maxRotation: 0,
                    align: 'start',
                    padding: 1,
                    color: '#444',
                    font: { family: 'Noto Sans', size: 11.5 },
                    callback: v => surveyTickLabels[surveyTickMinutes.indexOf(v)]
                }
            },
            y: { display: false, afterFit: s => { s.width = 0; } }
        }
    }
});
// survey markers on top of the strip
[287, 453, 487, 716].forEach(x => {
    box(x - 13, 678, 26, 26, 'background:rgba(175,185,175,.45);border-radius:13px');
    crosshair(x, 690, '#555');
});
box(289, 690, 2, 21, 'background:#19c37d');
svg(7, 679, 12, 12, '<circle cx="6" cy="5" r="4" fill="none" stroke="#19bfe6" stroke-width="2"/><circle cx="4" cy="5" r="2" fill="#f5d90a"/>');

// ---- log
box(7, 722, 1022, 1, 'background:#bbb');
box(7, 723, 1022, 243, 'background:#f0f0f0');
text(12, 733, 'Log', 'font-size:15px;font-weight:700;color:#f5a623');
chevron(1023, 733, '#2a8ff0', true);
box(43, 753, 986, 206, 'background:#f5f5f5;border:1px solid #cfd8e0;box-sizing:border-box');
sideText(15, 755, 30, 36, 'Table', 'background:#fff;border:1px solid #ccc;border-right:none;font-size:11.5px;color:#333;transform:rotate(180deg);box-sizing:border-box');
sideText(16, 791, 27, 51, 'Terminal', 'background:#eee;border:1px solid #ccc;font-size:11.5px;color:#333;transform:rotate(180deg);box-sizing:border-box');
box(46, 753, 5, 13, 'background:#2a5a96');
box(46, 766, 5, 153, 'background:#8ff0cf');
box(46, 923, 5, 34, 'background:#ffa500');
box(1011, 766, 17, 155, 'background:#ececec');
box(1011, 810, 17, 10, 'background:#d0d0d0');
svg(1014, 772, 11, 8, '<path d="M1 6L5.5 2L10 6" fill="none" stroke="#999"/>');
svg(1014, 906, 11, 8, '<path d="M1 2L5.5 6L10 2" fill="none" stroke="#999"/>');

const makeTable = (y, rows, header) => {
    const t = document.createElement('table');
    t.style.cssText = `left:52px;top:${y}px;width:959px`;
    const cols = logColumns.map(c => `<col style="width:${c[1]}px">`).join('');
    const head = header ? '<tr>' + logColumns.map(c => `<th>${c[0]}</th>`).join('') + '</tr>' : '';
    const body = rows.map(r => `<tr style="background:${r.bg}">` + r.cells.map(v => `<td style="color:${r.fg}">${v}</td>`).join('') + '</tr>').join('');
    t.innerHTML = `<colgroup>${cols}</colgroup>${head}${body}`;
    app.appendChild(t);
};
const rowStyle = i => {
    if (i === 0) return { bg: 'linear-gradient(#0e2245,#2a4c82)', fg: '#8b9cb6' };
    if (i === 8) return { bg: 'linear-gradient(#2b5290 40%,#14294e)', fg: '#d7e3f4' };
    if (i === 9) return { bg: 'linear-gradient(#6e6e6e,#c2c2c2 45%,#777)', fg: '#1c1c1c' };
    return { bg: '#2b5290', fg: '#d7e3f4' };
};
makeTable(754, logRows.map((r, i) => Object.assign({ cells: r }, rowStyle(i))), true);
box(976, 903, 35, 15, 'background:#00708f');
box(52, 919, 976, 4, 'background:#bdbdbd');
makeTable(923, [{ cells: latestRow, bg: '#2b5290', fg: '#d7e3f4' }], false);
box(1011, 923, 18, 34, `background:${NAVY}`);
box(52, 940, 959, 17, 'background:#efefef');
svg(125, 944, 8, 11, '<path d="M6 1L2 5.5L6 10" fill="none" stroke="#bbb"/>');
svg(1000, 944, 8, 11, '<path d="M2 1L6 5.5L2 10" fill="none" stroke="#ccc"/>');

box(456, 881, 156, 74, 'border:3px solid #f58025;box-sizing:border-box');
const reviewTag = box(489, 899, 94, 18, `background:#98fcd6;border-radius:2px;${TAB_FONT}color:#234;display:flex;align-items:center;justify-content:center`);
reviewTag.textContent = 'Review Pane';
const latestTag = box(489, 922, 94, 18, `background:#ffa500;border:1px solid #c98500;box-sizing:border-box;border-radius:2px;${TAB_FONT}color:#322;display:flex;align-items:center;justify-content:center`);
latestTag.textContent = 'Latest Readings';
[527, 531, 535, 539].forEach(x => box(x, 919, 2, 2, 'background:#777'));
</script>
</body>
</html>
